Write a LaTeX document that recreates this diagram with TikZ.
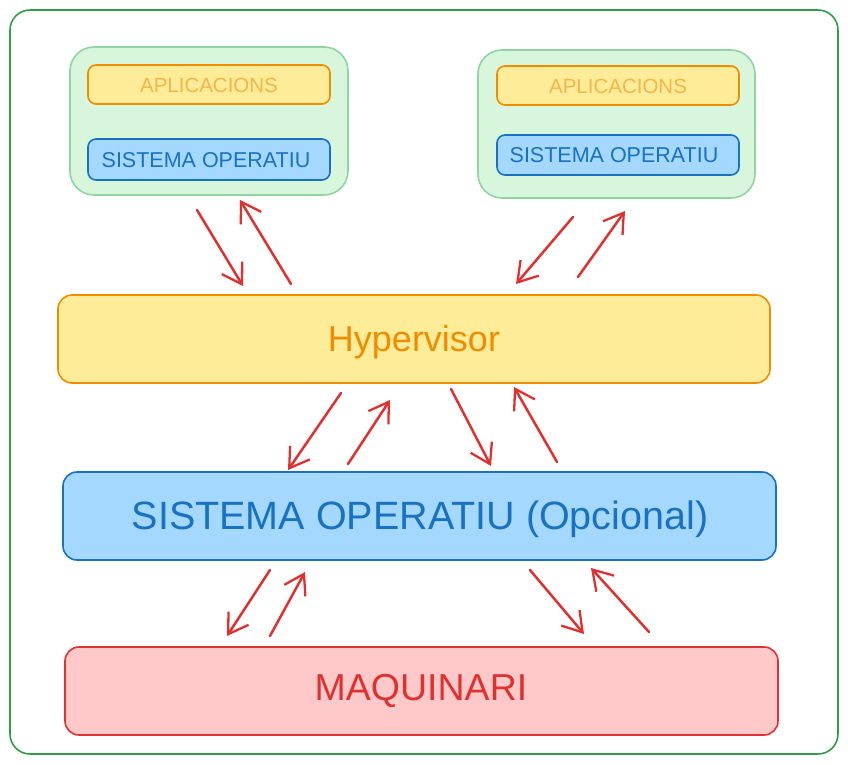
\documentclass[tikz,border=0pt]{standalone}
\usepackage{fontspec}
\setmainfont{Liberation Sans}
\usetikzlibrary{arrows.meta}
\definecolor{frameG}{HTML}{2F9E44}
\definecolor{vmFill}{HTML}{D7F6DC}
\definecolor{vmDraw}{HTML}{90D4A0}
\definecolor{yelFill}{HTML}{FFEC99}
\definecolor{orDraw}{HTML}{F08C00}
\definecolor{appText}{HTML}{F4B549}
\definecolor{bluFill}{HTML}{A5D8FF}
\definecolor{bluDraw}{HTML}{1971C2}
\definecolor{redFill}{HTML}{FFC9C9}
\definecolor{redDraw}{HTML}{E03131}
\tikzset{
  box/.style={rounded corners=#1, line width=1.6pt},
  vmbox/.style={box=24pt, fill=vmFill, draw=vmDraw},
  appbox/.style={box=8pt, fill=yelFill, draw=orDraw},
  sobox/.style={box=8pt, fill=bluFill, draw=bluDraw},
  lbl/.style={inner sep=0pt},
  flow/.style={draw=redDraw, line width=2.5pt, line cap=round,
    -{Straight Barb[length=19pt,width=24pt,line width=2.3pt]}},
}
\begin{document}
\begin{tikzpicture}[x=1pt,y=-1pt]
\useasboundingbox (0,0) rectangle (848,765);
% outer frame
\draw[rounded corners=20pt, line width=1.6pt, draw=frameG, fill=white] (10,10) rectangle (838,754);

% VM left
\draw[vmbox] (70,47) rectangle (348,195);
\draw[appbox] (88,65) rectangle (330,104);
\node[lbl, text=appText, font=\fontsize{20.5}{22}\selectfont] (appL) at (209,85) {APLICACIONS};
\draw[sobox] (88,139) rectangle (330,180);
\node[lbl, text=bluDraw, font=\fontsize{21.5}{24}\selectfont] (soL) at (206,160) {SISTEMA OPERATIU};

% VM right
\draw[vmbox] (478,50) rectangle (755,198);
\draw[appbox] (497,66) rectangle (739,105);
\node[lbl, text=appText, font=\fontsize{20.5}{22}\selectfont] (appR) at (618,86) {APLICACIONS};
\draw[sobox] (497,135) rectangle (739,175);
\node[lbl, text=bluDraw, font=\fontsize{21.5}{24}\selectfont] (soR) at (614,155.5) {SISTEMA OPERATIU};

% layers
\draw[box=14pt, fill=yelFill, draw=orDraw] (58,295) rectangle (770,383);
\node[lbl, text=orDraw, font=\fontsize{36}{40}\selectfont] (hyp) at (414,342) {Hypervisor};
\draw[box=14pt, fill=bluFill, draw=bluDraw] (63,472) rectangle (776,560);
\node[lbl, text=bluDraw, font=\fontsize{39.5}{44}\selectfont] (so) at (420,519) {SISTEMA OPERATIU (Opcional)};
\draw[box=14pt, fill=redFill, draw=redDraw] (65,647) rectangle (778,735);
\node[lbl, text=redDraw, font=\fontsize{37.5}{42}\selectfont] (hw) at (421,691) {MAQUINARI};

% arrow endpoints
\coordinate (a1s) at (197,210); \coordinate (a1e) at (243,286);
\coordinate (a2s) at (291,284); \coordinate (a2e) at (240,200);
\coordinate (a3s) at (573,217); \coordinate (a3e) at (516,284);
\coordinate (a4s) at (578,277); \coordinate (a4e) at (625,211);
\coordinate (b1s) at (341,393); \coordinate (b1e) at (288,470);
\coordinate (b2s) at (348,464); \coordinate (b2e) at (390,400);
\coordinate (b3s) at (451,389); \coordinate (b3e) at (491,466);
\coordinate (b4s) at (557,462); \coordinate (b4e) at (514,387);
\coordinate (c1s) at (270,570); \coordinate (c1e) at (227,636);
\coordinate (c2s) at (270,636); \coordinate (c2e) at (305,572);
\coordinate (c3s) at (530,570); \coordinate (c3e) at (584,634);
\coordinate (c4s) at (649,632); \coordinate (c4e) at (591,568);
\foreach \p in {a1,a2,a3,a4,b1,b2,b3,b4,c1,c2,c3,c4}
  \draw[flow] (\p s) -- (\p e);
\end{tikzpicture}
\end{document}
